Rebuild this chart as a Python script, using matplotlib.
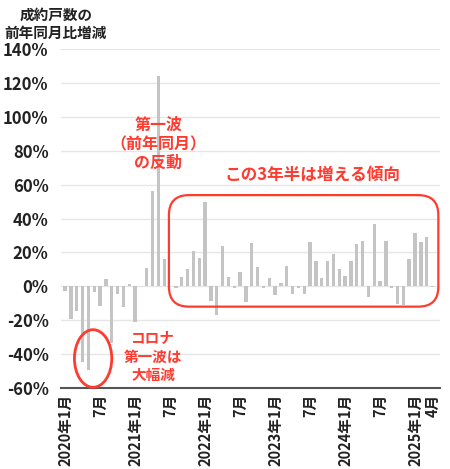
import matplotlib
matplotlib.use('Agg')
import matplotlib.pyplot as plt
from matplotlib.patches import Ellipse, FancyBboxPatch
import numpy as np

plt.rcParams['font.family'] = ['Noto Sans CJK JP', 'DejaVu Sans']

# monthly change vs same month of previous year (%), 2020-01 .. 2025-04
values = [-3, -19, -14.5, -44.5, -49.5, -3.5, -11.5, 4.3, -33.6, -4.3, -12.3, 1.5,
          -21, 0, 10.7, 56.4, 123.8, 16, 0.3, -0.8, 5.6, 10.5, 20.9, 16.6,
          49.5, -8.9, -16.8, 23.8, 5.2, -1, 8.7, -9.5, 25.4, 11.3, -1, 4.8,
          -5.4, 1.9, 12, -4.4, -1, -4.4, 26.4, 15, 4.8, 15, 19, 10.3,
          6.2, 15, 25, 26.8, -6.3, 37, 3.2, 26.8, -1, -10.3, -10.9, 16,
          31.7, 26.2, 29, -0.5]
tick_pos = [0, 6, 12, 18, 24, 30, 36, 42, 48, 54, 60, 63]
tick_labels = ['2020年1月', '7月', '2021年1月', '7月', '2022年1月', '7月',
               '2023年1月', '7月', '2024年1月', '7月', '2025年1月', '4月']
y_ticks = [-60, -40, -20, 0, 20, 40, 60, 80, 100, 120, 140]

red = '#ff3b30'

fig = plt.figure(figsize=(4.5, 4.69), dpi=100)
ax = fig.add_axes([0.1356, 0.1727, 0.8424, 0.7228])

x = np.arange(len(values))
ax.bar(x, values, width=0.58, color='#c4c4c4', zorder=2)

for s in ['left', 'right', 'top']:
    ax.spines[s].set_visible(False)
ax.spines['bottom'].set_color('#555555')
ax.spines['bottom'].set_linewidth(1.5)

ax.set_xlim(-0.7, 64.3)
ax.set_ylim(-60, 140)
ax.set_yticks(y_ticks)
ax.set_yticklabels([f'{v}%' for v in y_ticks], fontsize=12, fontweight='bold',
                   color='#222222')
ax.set_xticks(tick_pos)
ax.set_xticklabels(tick_labels, rotation=90, fontsize=10.5, va='top',
                   fontweight='bold', color='#222222')
ax.tick_params(axis='both', length=0)
ax.tick_params(axis='y', pad=9)
ax.tick_params(axis='x', pad=4)
ax.grid(axis='y', color='#e6e6e6', linewidth=1, zorder=0)

fig.text(56 / 450, 1 - 24 / 469, '成約戸数の\n前年同月比増減', ha='center', va='center',
         fontsize=10.5, fontweight='bold', linespacing=1.2, color='#222222')

# annotations
ax.text(16, 84, '第一波\n（前年同月）\nの反動', color=red, ha='center', va='center',
        fontsize=11.5, fontweight='bold', linespacing=1.25)
ax.text(42.5, 65.5, 'この3年半は増える傾向', color=red, ha='center', va='center',
        fontsize=12, fontweight='bold')
ax.text(15.1, -41.5, 'コロナ\n第一波は\n大幅減', color=red, ha='center', va='center',
        fontsize=10.5, fontweight='bold', linespacing=1.2)

ax.add_patch(Ellipse((4.8, -42.6), 6.4, 34, fill=False, edgecolor=red,
                     linewidth=2, clip_on=False, zorder=3))

# rounded box, correct rounding for unequal x/y scale
bbox = ax.get_position()
x_per_px = 65 / (bbox.width * 450)
y_per_px = 200 / (bbox.height * 469)
aspect = y_per_px / x_per_px
ax.add_patch(FancyBboxPatch((17.8, -12), 64.0 - 17.8, 53.8 + 12,
                            boxstyle=f'round,pad=0,rounding_size={20 * x_per_px}',
                            mutation_aspect=aspect, fill=False, edgecolor=red,
                            linewidth=1.6, clip_on=False, zorder=3))

fig.savefig('out.png', dpi=100)
